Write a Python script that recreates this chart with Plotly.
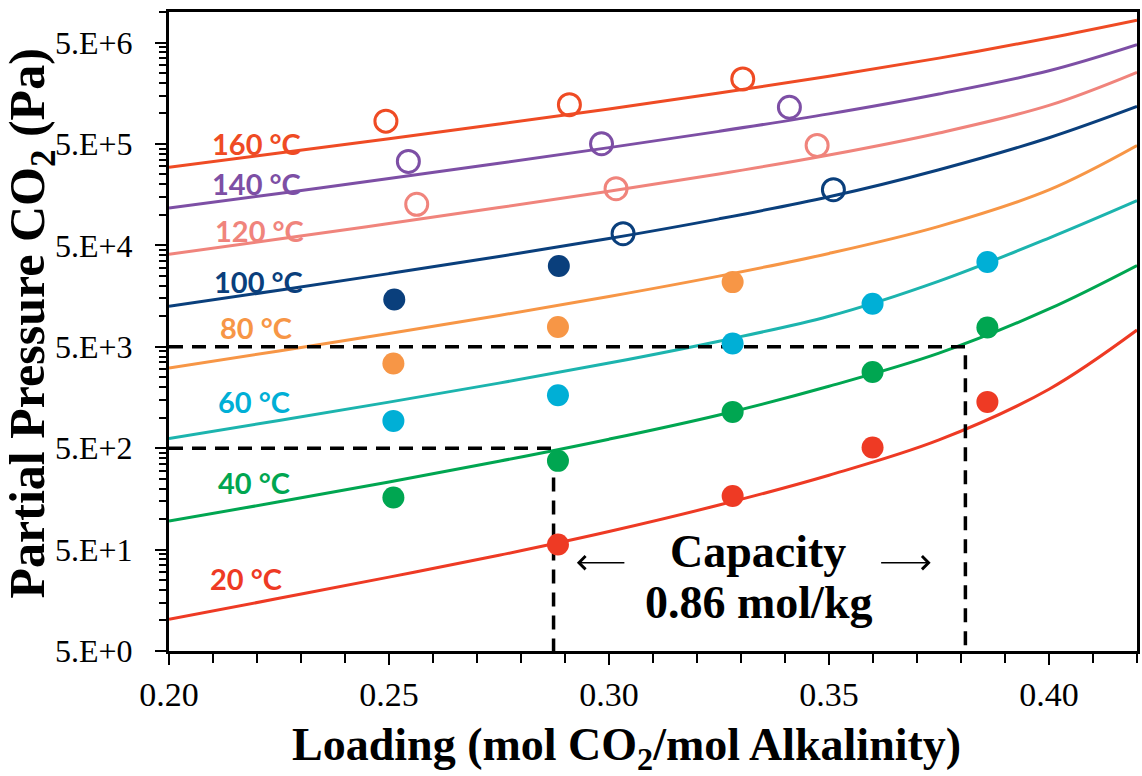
import numpy as np
import plotly.graph_objects as go

# ---------------- data ----------------
# model curves: loading (mol CO2/mol alkalinity) vs partial pressure CO2 (Pa)
curve_x = [0.200, 0.225, 0.250, 0.275, 0.300, 0.325, 0.350, 0.375, 0.400, 0.420]
y_160 = [2.95e5, 4.07e5, 5.64e5, 7.87e5, 1.108e6, 1.586e6, 2.322e6, 3.51e6, 5.537e6, 8.29e6]
y_140 = [1.165e5, 1.627e5, 2.28e5, 3.22e5, 4.597e5, 6.653e5, 9.895e5, 1.554e6, 2.631e6, 4.755e6]
y_120 = [4.076e4, 5.768e4, 8.218e4, 1.179e5, 1.709e5, 2.526e5, 3.886e5, 6.417e5, 1.2e6, 2.543e6]
y_100 = [1.253e4, 1.805e4, 2.632e4, 3.879e4, 5.834e4, 9.123e4, 1.506e5, 2.785e5, 5.756e5, 1.171e6]
y_80 = [3091, 4546, 6761, 1.017e4, 1.565e4, 2.487e4, 4.161e4, 7.696e4, 1.761e5, 4.822e5]
y_60 = [623, 937, 1423, 2190, 3454, 5678, 9989, 2.22e4, 5.901e4, 1.379e5]
y_40 = [95.4, 147.9, 232.3, 371.4, 613.3, 1064, 2040, 4324, 1.179e4, 3.162e4]
y_20 = [10.26, 16.53, 26.74, 43.94, 75.4, 137.5, 270.4, 602.4, 1906, 7303]

# experimental points
px_160_open = [0.2493, 0.2910, 0.3304]
py_160_open = [8.39e5, 1.22e6, 2.19e6]
px_140_open = [0.2544, 0.2983, 0.3410]
py_140_open = [3.36e5, 5.02e5, 1.15e6]
px_120_open = [0.2563, 0.3016, 0.3473]
py_120_open = [1.27e5, 1.81e5, 4.83e5]
px_100_fill = [0.2512, 0.2886]
py_100_fill = [1.46e4, 3.13e4]
px_100_open = [0.3032, 0.3510]
py_100_open = [6.52e4, 1.77e5]
px_80_fill = [0.2510, 0.2884, 0.3281]
py_80_fill = [3.42e3, 7.84e3, 2.17e4]
px_60_fill = [0.2510, 0.2884, 0.3281, 0.3599, 0.3860]
py_60_fill = [929, 1664, 5380, 1.33e4, 3.43e4]
px_40_fill = [0.2510, 0.2884, 0.3281, 0.3599, 0.3860]
py_40_fill = [163, 375, 1140, 2825, 7730]
px_20_fill = [0.2884, 0.3281, 0.3599, 0.3860]
py_20_fill = [56.2, 169, 508, 1430]

# capacity guide lines
cap_low_x, cap_low_y = 0.2874, 500
cap_high_x, cap_high_y = 0.3810, 5000

# temperature labels
labels = ["160 °C", "140 °C", "120 °C", "100 °C", "80 °C", "60 °C", "40 °C", "20 °C"]
label_x = [0.2199, 0.2199, 0.2206, 0.2204, 0.2197, 0.2193, 0.2193, 0.2174]
label_y = [5.06e5, 2.04e5, 7.03e4, 2.21e4, 7.78e3, 1452, 231, 26.2]

# y tick values / labels
y_tickvals = [5, 50, 500, 5000, 5e4, 5e5, 5e6]
y_ticktext = ["5.E+0", "5.E+1", "5.E+2", "5.E+3", "5.E+4", "5.E+5", "5.E+6"]
x_tickvals = [0.20, 0.25, 0.30, 0.35, 0.40]
x_ticktext = ["0.20", "0.25", "0.30", "0.35", "0.40"]

# ---------------- colours ----------------
c160 = "#EF4B24"
c140 = "#7D4FA5"
c120 = "#F0847C"
c100 = "#0A3F7C"
c80 = "#F79646"
c60_line = "#1CB4AE"
c60_mark = "#00AFD6"
c40 = "#00A651"
c20 = "#EE3A24"
label_colors = [c160, c140, c120, c100, c80, c60_mark, c40, c20]

fig = go.Figure()

def add_curve(y, color):
    fig.add_trace(go.Scatter(x=curve_x, y=y, mode="lines",
                             line=dict(color=color, width=3, shape="spline", smoothing=1.0),
                             hoverinfo="skip", showlegend=False))

add_curve(y_160, c160)
add_curve(y_140, c140)
add_curve(y_120, c120)
add_curve(y_100, c100)
add_curve(y_80, c80)
add_curve(y_60, c60_line)
add_curve(y_40, c40)
add_curve(y_20, c20)

# dashed capacity guides
ymin = 5
dash = dict(color="black", width=3.5, dash="14px,9px")
fig.add_trace(go.Scatter(x=[0.2, cap_low_x, cap_low_x], y=[cap_low_y, cap_low_y, ymin],
                         mode="lines", line=dash, hoverinfo="skip", showlegend=False))
fig.add_trace(go.Scatter(x=[0.2, cap_high_x, cap_high_x], y=[cap_high_y, cap_high_y, ymin],
                         mode="lines", line=dash, hoverinfo="skip", showlegend=False))

def add_points(x, y, color, filled):
    if filled:
        marker = dict(symbol="circle", size=22, color=color, line=dict(width=0))
    else:
        marker = dict(symbol="circle-open", size=22, color=color, line=dict(width=3, color=color))
    fig.add_trace(go.Scatter(x=x, y=y, mode="markers", marker=marker,
                             hoverinfo="skip", showlegend=False))

add_points(px_160_open, py_160_open, c160, False)
add_points(px_140_open, py_140_open, c140, False)
add_points(px_120_open, py_120_open, c120, False)
add_points(px_100_fill, py_100_fill, c100, True)
add_points(px_100_open, py_100_open, c100, False)
add_points(px_80_fill, py_80_fill, c80, True)
add_points(px_60_fill, py_60_fill, c60_mark, True)
add_points(px_40_fill, py_40_fill, c40, True)
add_points(px_20_fill, py_20_fill, c20, True)

annotations = []
for t, lx, ly, col in zip(labels, label_x, label_y, label_colors):
    annotations.append(dict(x=lx, y=np.log10(ly), xref="x", yref="y", text=t, showarrow=False,
                            font=dict(family="Lato", size=29, color=col, weight="bold"),
                            xanchor="center", yanchor="middle"))

# capacity text and arrows
serif = "Liberation Serif"
annotations.append(dict(x=0.3339, y=np.log10(48.3), xref="x", yref="y",
                        text="<b>Capacity</b>", showarrow=False,
                        font=dict(family=serif, size=46, color="black"),
                        xanchor="center", yanchor="middle"))
annotations.append(dict(x=0.3339, y=np.log10(14.9), xref="x", yref="y",
                        text="<b>0.86 mol/kg</b>", showarrow=False,
                        font=dict(family=serif, size=46, color="black"),
                        xanchor="center", yanchor="middle"))
annotations.append(dict(x=0.2927, y=np.log10(37.1), xref="x", yref="y", text="",
                        showarrow=True, ax=49, ay=0, arrowhead=4, arrowsize=1.6,
                        arrowwidth=1.6, arrowcolor="black", standoff=0))
annotations.append(dict(x=0.3731, y=np.log10(37.1), xref="x", yref="y", text="",
                        showarrow=True, ax=-51, ay=0, arrowhead=4, arrowsize=1.6,
                        arrowwidth=1.6, arrowcolor="black", standoff=0))

# axis titles (paper coords are relative to the plot area)
annotations.append(dict(x=0.4727, y=-0.152, xref="paper", yref="paper",
                        text="<b>Loading (mol CO<sub>2</sub>/mol Alkalinity)</b>", showarrow=False,
                        font=dict(family=serif, size=46, color="black"),
                        xanchor="center", yanchor="middle"))
annotations.append(dict(x=-0.1421, y=0.5133, xref="paper", yref="paper",
                        text="<b>Partial Pressure CO<sub>2</sub> (Pa)</b>", showarrow=False,
                        textangle=-90,
                        font=dict(family=serif, size=50, color="black"),
                        xanchor="center", yanchor="middle"))

minor_y = []
for n in range(0, 7):
    base = 5 * 10 ** n
    for k in range(2, 10):
        v = base * k
        if v <= 1e7:
            minor_y.append(v)

fig.update_layout(
    width=1142, height=776, autosize=False,
    margin=dict(l=169, r=2, t=12, b=125),
    paper_bgcolor="white", plot_bgcolor="white",
    showlegend=False,
    annotations=annotations,
    xaxis=dict(range=[0.2, 0.42], tickmode="array", tickvals=x_tickvals, ticktext=x_ticktext,
               ticks="outside", ticklen=11, tickwidth=2, tickcolor="black",
               showline=True, linewidth=3, linecolor="black", mirror=True,
               showgrid=False, zeroline=False, ticklabelstandoff=0,
               tickfont=dict(family=serif, size=34, color="black"),
               minor=dict(dtick=0.01, tick0=0.2, ticks="outside", ticklen=9, tickwidth=2,
                          tickcolor="black", showgrid=False)),
    yaxis=dict(type="log", range=[np.log10(5), 7], tickmode="array", tickvals=y_tickvals,
               ticktext=y_ticktext, ticks="outside", ticklen=11, tickwidth=2, tickcolor="black",
               showline=True, linewidth=3, linecolor="black", mirror=True,
               showgrid=False, zeroline=False, ticklabelstandoff=16,
               tickfont=dict(family=serif, size=32, color="black"),
               minor=dict(tickmode="array", tickvals=minor_y, ticks="outside", ticklen=7,
                          tickwidth=2, tickcolor="black", showgrid=False)),
)

fig.write_html("out.html")
